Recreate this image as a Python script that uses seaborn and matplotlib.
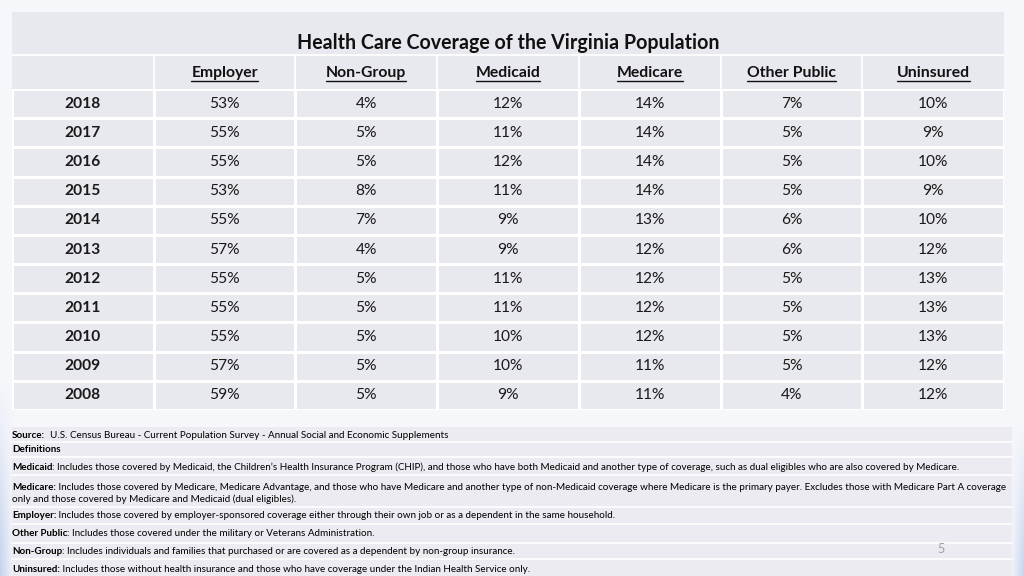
import numpy as np
import pandas as pd
import seaborn as sns
import matplotlib.pyplot as plt
from matplotlib.colors import ListedColormap
from matplotlib.patches import Rectangle

# table data
years = [2018, 2017, 2016, 2015, 2014, 2013, 2012, 2011, 2010, 2009, 2008]
employer = [53, 55, 55, 53, 55, 57, 55, 55, 55, 57, 59]
non_group = [4, 5, 5, 8, 7, 4, 5, 5, 5, 5, 5]
medicaid = [12, 11, 12, 11, 9, 9, 11, 11, 10, 10, 9]
medicare = [14, 14, 14, 14, 13, 12, 12, 12, 12, 11, 11]
other_public = [7, 5, 5, 5, 6, 6, 5, 5, 5, 5, 4]
uninsured = [10, 9, 10, 9, 10, 12, 13, 13, 13, 12, 12]
columns = ['Employer', 'Non-Group', 'Medicaid', 'Medicare', 'Other Public', 'Uninsured']

title = 'Health Care Coverage of the Virginia Population'
source_label = 'Source:'
source_text = '  U.S. Census Bureau - Current Population Survey - Annual Social and Economic Supplements'
notes = [
    ('Medicaid', ': Includes those covered by Medicaid, the Children\u2019s Health Insurance Program (CHIP), and those who have both Medicaid and another type of coverage, such as dual eligibles who are also covered by Medicare.'),
    ('Medicare:', ' Includes those covered by Medicare, Medicare Advantage, and those who have Medicare and another type of non-Medicaid coverage where Medicare is the primary payer. Excludes those with Medicare Part A coverage'),
    ('Employer:', ' Includes those covered by employer-sponsored coverage either through their own job or as a dependent in the same household.'),
    ('Other Public', ': Includes those covered under the military or Veterans Administration.'),
    ('Non-Group', ': Includes individuals and families that purchased or are covered as a dependent by non-group insurance.'),
    ('Uninsured:', ' Includes those without health insurance and those who have coverage under the Indian Health Service only.'),
]
medicare_cont = 'only and those covered by Medicare and Medicaid (dual eligibles).'

sns.set_style('white')
plt.rcParams['font.family'] = ['Lato', 'DejaVu Sans']

W, H = 1024, 576
cell = '#e8e8ef'
fig = plt.figure(figsize=(W / 100, H / 100), dpi=100)
fig.patch.set_facecolor('#f6f7fb')
bg = fig.add_axes([0, 0, 1, 1])
bg.set_xlim(0, W)
bg.set_ylim(H, 0)
bg.axis('off')
renderer = fig.canvas.get_renderer()

# soft blue shading at the lower slide edges
xx, yy = np.meshgrid(np.arange(W), np.arange(H))
a_left = np.clip(1 - xx / 14, 0, 1) * np.clip((yy - 380) / 196, 0, 1)
a_right = np.clip((xx - 1010) / 14, 0, 1) * np.clip((yy - 420) / 156, 0, 1)
shade = np.zeros((H, W, 4))
shade[..., :3] = np.array([0.72, 0.79, 0.91])
shade[..., 3] = np.clip(a_left + a_right, 0, 1) * 0.8
bg.imshow(shade, extent=(0, W, H, 0), zorder=0)
bg.set_xlim(0, W)
bg.set_ylim(H, 0)

# table panel + title / header rows
left, right, top, bottom = 12, 1004, 12, 410
bg.add_patch(Rectangle((left, top), right - left, bottom - top, fc=cell, ec='none'))
bg.plot([left, right], [55, 55], color='white', lw=1.2)
col_w = (right - left) / 7
for i in range(1, 7):
    bg.plot([left + i * col_w] * 2, [55, 89], color='white', lw=1.2)
bg.text((left + right) / 2, 43, title, ha='center', va='center', fontsize=14.1, fontweight='bold', color='#111111')
for i, c in enumerate(columns):
    t = bg.text(left + (i + 1.5) * col_w, 73, c, ha='center', va='center', fontsize=11.3, fontweight='bold', color='#111111')
    bb = t.get_window_extent(renderer=renderer)
    bg.plot([bb.x0, bb.x1], [H - bb.y0 + 0.5] * 2, color='#111111', lw=1)

# data rows as a heatmap with a single flat colour
df = pd.DataFrame({'Employer': employer, 'Non-Group': non_group, 'Medicaid': medicaid,
                   'Medicare': medicare, 'Other Public': other_public, 'Uninsured': uninsured}, index=years)
labels = np.column_stack([[str(y) for y in years]] + [[f'{v}%' for v in df[c]] for c in columns])
ax = fig.add_axes([left / W, (H - bottom) / H, (right - left) / W, (bottom - 89) / H])
sns.heatmap(np.zeros(labels.shape), annot=labels, fmt='', cmap=ListedColormap([cell]), vmin=0, vmax=1,
            cbar=False, linewidths=0.9, linecolor='white', xticklabels=False, yticklabels=False,
            annot_kws=dict(fontsize=11.2, color='#1a1a1a'), ax=ax)
for t in ax.texts:
    if t.get_position()[0] < 1:
        t.set_fontweight('bold')

# notes panel
bg.add_patch(Rectangle((12, 427), 1000, H - 427, fc='#ebebf1', ec='none'))
for y in [442, 457, 475, 507, 524, 543, 559]:
    bg.plot([12, 1012], [y, y], color='white', lw=1.2)

fs = 7.1


def note(y, label, text):
    t = bg.text(12, y, label, fontsize=fs, fontweight='bold', va='center', color='black')
    w = t.get_window_extent(renderer=renderer).width
    bg.text(12 + w, y, text, fontsize=fs, va='center', color='black')


note(436, source_label, source_text)
bg.text(12, 450, 'Definitions', fontsize=fs, fontweight='bold', va='center', color='black')
for y, (lab, txt) in zip([467, 487, 516, 534, 552, 569], notes):
    note(y, lab, txt)
bg.text(12, 499, medicare_cont, fontsize=fs, va='center', color='black')
bg.text(941, 549, '5', fontsize=9, color='#a0a0a0', ha='center', va='center')

fig.savefig('out.png', dpi=100, facecolor=fig.get_facecolor())
